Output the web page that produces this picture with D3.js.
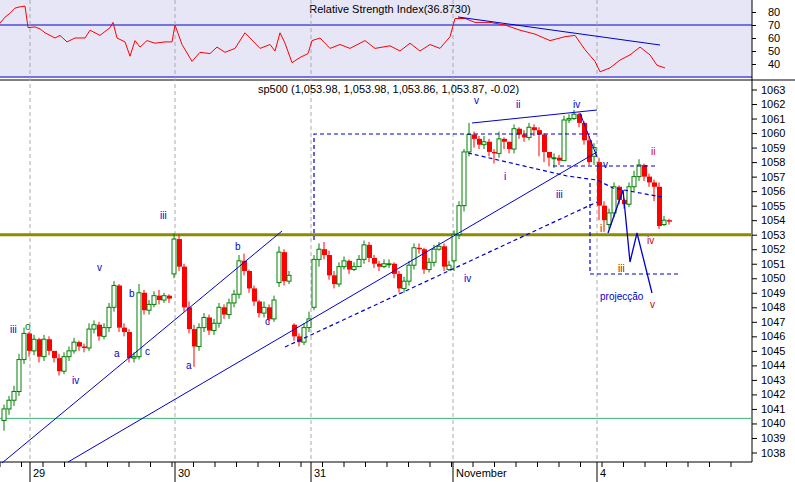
<!DOCTYPE html>
<html><head><meta charset="utf-8">
<script src="https://cdn.jsdelivr.net/npm/d3@7/dist/d3.min.js"></script>
<style>body{margin:0;background:#fff}svg{display:block;font-family:"Liberation Sans",Arial,sans-serif}</style>
</head><body><svg id="c" width="795" height="482"></svg>
<script>
const closes=[1041.0,1041.6,1042.2,1044.4,1046.2,1045.0,1045.8,1044.6,1045.8,1045.0,1044.5,1043.6,1044.6,1045.0,1045.6,1045.3,1045.2,1046.5,1046.8,1046.0,1046.6,1048.0,1049.5,1046.6,1046.3,1044.5,1044.6,1049.0,1047.8,1048.2,1048.8,1048.5,1048.8,1048.6,1052.7,1050.8,1048.0,1046.5,1045.3,1046.6,1047.3,1046.4,1046.9,1048.0,1047.5,1048.3,1048.9,1051.2,1050.5,1049.3,1048.4,1047.6,1048.0,1047.2,1048.5,1051.8,1049.8,1050.2,1046.0,1045.6,1046.6,1047.2,1051.3,1052.0,1051.6,1050.2,1049.6,1050.8,1051.2,1050.6,1050.8,1051.3,1052.3,1051.4,1051.0,1050.8,1051.0,1051.0,1050.3,1049.3,1049.8,1050.9,1052.1,1052.0,1050.6,1051.1,1052.0,1052.2,1050.8,1050.9,1053.0,1055.0,1058.7,1059.9,1059.6,1059.2,1059.4,1058.7,1058.6,1059.6,1059.4,1058.9,1060.3,1059.9,1059.7,1060.4,1060.2,1059.9,1058.7,1058.3,1058.3,1058.1,1060.9,1061.0,1061.3,1060.7,1059.5,1058.0,1059.0,1055.0,1054.0,1054.5,1056.3,1055.4,1055.1,1056.3,1057.0,1057.8,1057.0,1056.6,1056.3,1053.6,1054.0,1053.9];
const opens=[1040.2,1041.0,1041.6,1042.2,1044.4,1046.2,1045.0,1045.8,1044.6,1045.8,1045.0,1044.5,1043.6,1044.6,1045.0,1045.6,1045.3,1045.2,1046.5,1046.8,1046.0,1046.6,1048.0,1049.5,1046.6,1046.3,1044.5,1044.6,1049.0,1047.8,1048.2,1048.8,1048.5,1048.8,1050.3,1052.7,1050.8,1048.0,1046.5,1045.3,1046.6,1047.3,1046.4,1046.9,1048.0,1047.5,1048.3,1048.9,1051.2,1050.5,1049.3,1048.4,1047.6,1048.0,1047.2,1049.7,1051.8,1049.8,1046.8,1046.0,1045.6,1046.6,1048.0,1051.3,1052.0,1051.6,1050.2,1049.6,1050.8,1051.2,1050.6,1050.8,1051.3,1052.3,1051.4,1051.0,1050.8,1051.0,1051.0,1050.3,1049.3,1049.8,1050.9,1052.1,1052.0,1050.6,1051.1,1052.0,1052.2,1050.6,1051.2,1053.0,1055.0,1058.7,1059.9,1059.6,1059.2,1059.4,1058.7,1058.6,1059.6,1059.4,1058.9,1060.3,1059.9,1059.7,1060.4,1060.2,1059.9,1058.7,1058.3,1058.3,1058.1,1060.9,1061.0,1061.3,1060.7,1059.5,1058.4,1058.0,1055.0,1053.7,1054.5,1056.3,1055.4,1055.1,1056.3,1057.0,1057.8,1057.0,1056.6,1056.3,1053.7,1054.0];
const highs=[1041.3,1041.9,1042.6,1044.8,1046.6,1046.3,1046.1,1045.9,1046.1,1046.0,1045.0,1044.8,1044.9,1045.3,1045.9,1045.7,1045.5,1046.9,1047.1,1047.0,1046.9,1048.3,1049.8,1049.6,1046.9,1046.5,1044.9,1049.6,1049.2,1048.5,1049.1,1049.2,1049.0,1048.9,1053.1,1053.0,1051.0,1048.4,1046.8,1046.9,1047.6,1047.5,1047.2,1048.3,1048.2,1048.6,1049.2,1051.6,1051.7,1050.6,1049.5,1048.5,1048.4,1048.2,1048.8,1052.2,1052.0,1050.5,1046.9,1046.2,1046.9,1047.7,1051.6,1052.4,1052.5,1051.9,1050.5,1051.1,1051.5,1051.3,1051.1,1051.6,1052.6,1052.5,1051.6,1051.2,1051.3,1051.3,1051.1,1050.5,1050.1,1051.2,1052.4,1052.4,1052.1,1051.4,1052.3,1052.5,1052.4,1051.2,1053.3,1055.3,1058.9,1060.7,1060.1,1059.8,1059.8,1059.6,1058.9,1060.1,1059.7,1059.4,1060.6,1060.4,1060.2,1060.7,1060.6,1060.4,1060.0,1058.7,1058.6,1058.5,1061.2,1061.3,1061.6,1061.4,1060.8,1059.8,1059.3,1058.3,1055.3,1054.8,1056.6,1056.4,1055.5,1056.6,1057.4,1058.2,1057.9,1057.2,1056.8,1056.6,1054.3,1054.1];
const lows=[1039.5,1040.6,1041.2,1041.9,1044.1,1044.6,1044.7,1044.2,1044.3,1044.7,1044.2,1043.3,1043.4,1044.3,1044.8,1045.0,1044.9,1045.0,1046.2,1045.7,1045.8,1046.3,1047.7,1046.3,1046.0,1044.2,1044.2,1044.4,1047.5,1047.5,1048.0,1048.2,1048.3,1048.3,1050.0,1050.5,1047.7,1046.2,1043.9,1045.0,1046.3,1046.1,1046.1,1046.6,1047.2,1047.2,1048.0,1048.6,1050.2,1049.0,1048.1,1047.3,1047.3,1046.9,1047.0,1049.4,1049.5,1049.6,1045.7,1045.3,1045.4,1046.3,1047.8,1050.8,1051.3,1049.9,1049.3,1049.4,1050.6,1050.3,1050.5,1050.9,1051.0,1051.1,1050.7,1050.5,1050.7,1050.7,1050.0,1049.0,1049.0,1049.5,1050.6,1051.7,1050.3,1050.4,1050.8,1051.9,1050.5,1050.5,1050.5,1052.7,1054.6,1058.4,1059.0,1058.9,1058.9,1058.4,1057.9,1058.3,1058.9,1058.6,1058.6,1059.6,1059.4,1059.5,1059.8,1058.4,1058.0,1057.7,1057.6,1057.8,1060.6,1060.7,1060.9,1060.4,1059.2,1057.8,1057.8,1054.0,1053.2,1053.4,1054.2,1055.1,1054.8,1054.9,1056.0,1056.7,1056.7,1056.3,1055.3,1053.4,1053.6,1053.7];
const rsi=[[0,71.5],[5,76],[10,79],[15,83],[20,84],[25,84.5],[28,68],[35,68.5],[40,67],[45,64],[55,60],[60,62],[67,57],[75,60],[85,60],[90,66],[100,62],[110,68],[113,72],[117,60],[125,57],[130,46],[135,58],[140,53],[147,58],[155,56],[165,57],[172,57],[175,70],[182,55],[192,42],[200,49],[210,48],[217,53],[225,49],[235,52],[245,64],[260,52],[270,55],[275,50],[280,64],[285,56],[292,41],[300,45],[308,48],[312,58],[320,60],[330,52],[340,55],[350,52],[365,58],[375,52],[390,54],[400,50],[410,56],[420,50],[430,55],[440,52],[450,61],[455,75],[465,75],[475,72],[490,72],[505,70],[520,66],[535,63],[550,58],[565,61],[575,62],[585,51],[595,42],[600,34],[610,37],[620,43],[630,47],[640,53],[650,47],[657,39],[665,37]];
const rsiTicks=[40,50,60,70,80];
const priceTicks=d3.range(1038,1064);
const dayLabels=["29","30","31","November","4"];
const dayPos=[5.6,34.6,61.8,90.2,119];

const svg=d3.select("#c");
const x=d3.scaleLinear().domain([0,1]).range([2,7]);
const px=d3.scaleLinear().domain([0,795]).range([0,795]);
const y=d3.scaleLinear().domain([1038,1063]).range([452.5,89.5]);
const yr=d3.scaleLinear().domain([40,80]).range([64,12]);
const bx=v=>(v-2)/5, bp=v=>y.invert(v);

svg.append("rect").attr("x",0).attr("y",0).attr("width",795).attr("height",78).attr("fill","#e6e6f6");
svg.append("rect").attr("x",752).attr("y",0).attr("width",43).attr("height",78).attr("fill","#fff");
[70,30].forEach(v=>svg.append("line").attr("x1",0).attr("x2",752).attr("y1",yr(v)).attr("y2",yr(v)).attr("stroke","#0000cc").attr("stroke-width",1.2));
svg.append("line").attr("x1",0).attr("x2",795).attr("y1",80).attr("y2",80).attr("stroke","#000");
svg.append("line").attr("x1",752).attr("x2",752).attr("y1",0).attr("y2",462).attr("stroke","#000");
svg.append("g").attr("transform","translate(752,0)").call(d3.axisRight(yr).tickValues(rsiTicks).tickSize(4)).call(g=>{g.select(".domain").remove();g.selectAll("text").attr("font-size",11).attr("x",16).attr("font-family","Liberation Sans,Arial")});
svg.append("text").attr("x",390).attr("y",13).attr("text-anchor","middle").attr("font-size",11).text("Relative Strength Index(36.8730)");

dayPos.forEach(d=>svg.append("line").attr("x1",x(d)).attr("x2",x(d)).attr("y1",0).attr("y2",462).attr("stroke","#aaa").attr("stroke-dasharray","4,3"));

svg.append("path").datum(rsi).attr("fill","none").attr("stroke","#ff0000").attr("d",d3.line().x(d=>px(d[0])).y(d=>yr(d[1])));
svg.append("line").attr("x1",458).attr("y1",17).attr("x2",660).attr("y2",45).attr("stroke","#0000cc");

svg.append("text").attr("x",258).attr("y",93).attr("font-size",11).text("sp500 (1,053.98, 1,053.98, 1,053.86, 1,053.87, -0.02)");

svg.append("line").attr("x1",0).attr("x2",752).attr("y1",y(1053)).attr("y2",y(1053)).attr("stroke","#8b8b00").attr("stroke-width",3);
svg.append("line").attr("x1",0).attr("x2",752).attr("y1",y(1040.35)).attr("y2",y(1040.35)).attr("stroke","#3cb371");

svg.append("g").attr("transform","translate(752,0)").call(d3.axisRight(y).tickValues(priceTicks).tickSize(5).tickFormat(d3.format("d"))).call(g=>{g.select(".domain").remove();g.selectAll("text").attr("font-size",11).attr("x",9).attr("font-family","Liberation Sans,Arial")});

svg.append("line").attr("x1",0).attr("x2",752).attr("y1",462).attr("y2",462).attr("stroke","#000");
const minor=d3.range(0,752,21.5);
minor.forEach(m=>svg.append("line").attr("x1",m).attr("x2",m).attr("y1",462).attr("y2",467).attr("stroke","#000"));
dayPos.forEach((d,i)=>{svg.append("line").attr("x1",x(d)).attr("x2",x(d)).attr("y1",462).attr("y2",482).attr("stroke","#000");
 svg.append("text").attr("x",x(d)+3).attr("y",477).attr("font-size",11).text(dayLabels[i]);});

const n=Math.min(closes.length,opens.length,highs.length,lows.length);
const cg=svg.append("g");
for(let i=0;i<n;i++){const up=closes[i]>=opens[i];const col=up?"#008000":"#ff0000";const cx=x(i)+2;
 cg.append("line").attr("x1",cx).attr("x2",cx).attr("y1",y(highs[i])).attr("y2",y(lows[i])).attr("stroke",col);
 const t=y(Math.max(opens[i],closes[i])),b=y(Math.min(opens[i],closes[i]));
 cg.append("rect").attr("x",cx-2).attr("y",t).attr("width",up?4:5).attr("height",Math.max(1,b-t)).attr("fill",up?"#fff":col).attr("stroke",up?col:"none").attr("stroke-width",1);}

const blue="#0000cc";
const solid=[[[2,463],[282,231]],[[68,462],[597,152]],[[472,123],[597,110]],[[580,113],[597,157]]];
solid.forEach(s=>svg.append("line").attr("x1",x(bx(s[0][0]))).attr("y1",y(bp(s[0][1]))).attr("x2",x(bx(s[1][0]))).attr("y2",y(bp(s[1][1]))).attr("stroke",blue));
const zig=[[608,233],[623,190],[630,262],[637,233],[652,293]];
const lp=d3.line().x(d=>x(bx(d[0]))).y(d=>y(bp(d[1])));
svg.append("path").datum(zig).attr("d",lp).attr("fill","none").attr("stroke",blue).attr("stroke-width",1.3);
const dashed=[[[314,240],[314,134],[597,134]],[[553,166],[658,166]],[[590,183],[590,274],[681,274]],[[468,153],[567,176],[597,180],[613,188],[662,197]],[[285,347],[597,202]]];
dashed.forEach(s=>svg.append("path").datum(s).attr("d",lp).attr("fill","none").attr("stroke",blue).attr("stroke-dasharray","4,3").attr("stroke-width",1.2));

const blueLabels=[["iii",10,333],["iv",72,384],["v",97,271],["b",129,297],["a",114,357],["c",145,355],["iii",160,219],["b",235,250],["a",186,369],["c",265,325],["v",474,104],["ii",516,108],["iv",573,108],["i",504,180],["iii",556,198],["iv",464,282],["v",603,168],["projecção",600,300]];
blueLabels.forEach(l=>svg.append("text").attr("x",l[1]).attr("y",l[2]).attr("font-size",10).attr("fill",blue).text(l[0]));
svg.append("text").attr("x",25).attr("y",330).attr("font-size",10).attr("fill","#008000").text("o");
const redLabels=[["ii",651,155],["i",600,232],["iv",647,244],["iii",618,272],["v",650,308]];
redLabels.forEach(l=>svg.append("text").attr("x",l[1]).attr("y",l[2]).attr("font-size",10).attr("fill","#cc0000").text(l[0]));
</script></body></html>
